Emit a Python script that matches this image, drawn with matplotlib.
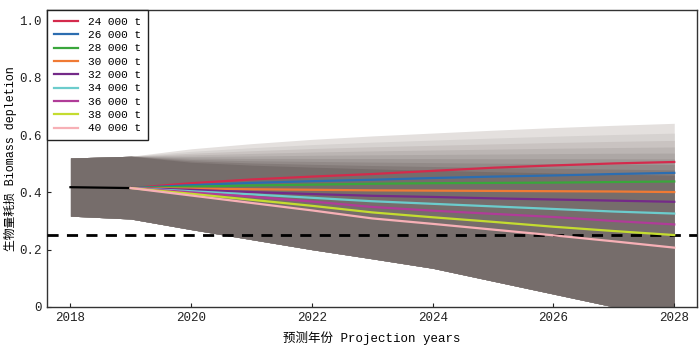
import numpy as np
import matplotlib
matplotlib.use("Agg")
import matplotlib.pyplot as plt

plt.rcParams['font.family'] = ['Liberation Mono', 'Noto Sans CJK SC', 'DejaVu Sans']

# historical period
hist_years = [2018, 2019]
hist_depletion = [0.418, 0.415]

# projection period (2019 is the common start)
proj_years = [2019, 2020, 2021, 2022, 2023, 2024, 2025, 2026, 2027, 2028]

catch_labels = ["24 000 t", "26 000 t", "28 000 t", "30 000 t", "32 000 t",
                "34 000 t", "36 000 t", "38 000 t", "40 000 t"]

median_24 = [0.415, 0.432, 0.445, 0.455, 0.464, 0.475, 0.486, 0.494, 0.501, 0.506]
median_26 = [0.415, 0.425, 0.433, 0.439, 0.444, 0.450, 0.455, 0.459, 0.464, 0.468]
median_28 = [0.415, 0.420, 0.424, 0.427, 0.430, 0.432, 0.433, 0.434, 0.436, 0.438]
median_30 = [0.415, 0.413, 0.411, 0.409, 0.407, 0.406, 0.405, 0.404, 0.403, 0.401]
median_32 = [0.415, 0.409, 0.401, 0.394, 0.388, 0.384, 0.379, 0.375, 0.371, 0.367]
median_34 = [0.415, 0.404, 0.393, 0.381, 0.369, 0.360, 0.351, 0.342, 0.333, 0.326]
median_36 = [0.415, 0.400, 0.385, 0.368, 0.349, 0.336, 0.325, 0.314, 0.300, 0.288]
median_38 = [0.415, 0.395, 0.374, 0.353, 0.330, 0.313, 0.297, 0.280, 0.265, 0.251]
median_40 = [0.415, 0.389, 0.363, 0.337, 0.309, 0.290, 0.270, 0.250, 0.229, 0.207]
medians = [median_24, median_26, median_28, median_30, median_32,
           median_34, median_36, median_38, median_40]

# interval band (2018-2028): common lower bound, upper bound per scenario
band_years = [2018, 2019, 2020, 2021, 2022, 2023, 2024, 2025, 2026, 2027, 2028]
band_lower = [0.317, 0.307, 0.270, 0.235, 0.200, 0.168, 0.135, 0.090, 0.045, 0.0, 0.0]
upper_24 = [0.520, 0.526, 0.552, 0.570, 0.585, 0.597, 0.607, 0.617, 0.626, 0.634, 0.641]
upper_40 = [0.520, 0.526, 0.505, 0.495, 0.488, 0.482, 0.477, 0.472, 0.468, 0.464, 0.460]

ref_level = 0.25

line_colors = ['#d42a4c', '#2c6db0', '#3aa63c', '#f07a34', '#742a88',
               '#6ccccc', '#b03c98', '#c4dc30', '#f7b0b6']

fig = plt.figure(figsize=(7, 3.5), dpi=100)
ax = fig.add_axes([0.067, 0.123, 0.929, 0.848])

# stacked grey bands, lightest (widest) first
light = np.array([228, 224, 222]) / 255
dark = np.array([118, 109, 107]) / 255
n = len(medians)
up24 = np.array(upper_24)
up40 = np.array(upper_40)
for i in range(n):
    f = i / (n - 1)
    upper = up24 + (up40 - up24) * f ** 0.8
    shade = light + (dark - light) * f
    ax.fill_between(band_years, band_lower, upper, color=shade, lw=0, zorder=1)

ax.axhline(ref_level, color='black', lw=2, ls=(0, (4, 3)), zorder=3)

ax.plot(hist_years, hist_depletion, color='black', lw=1.6, zorder=4)
for med, lab, col in zip(medians, catch_labels, line_colors):
    ax.plot(proj_years, med, color=col, lw=1.6, label=lab, zorder=4)

ax.set_xlim(2017.61, 2028.38)
ax.set_ylim(0, 1.036)
ax.set_xticks([2018, 2020, 2022, 2024, 2026, 2028])
ax.set_yticks([0, 0.2, 0.4, 0.6, 0.8, 1.0])
ax.set_yticklabels(['0', '0.2', '0.4', '0.6', '0.8', '1.0'])
ax.tick_params(direction='in', length=3, labelsize=9, colors='#222222')
for s in ax.spines.values():
    s.set_color('#333333')
    s.set_linewidth(1)

ax.set_xlabel('预测年份 Projection years', fontsize=9, labelpad=5)
ax.set_ylabel('生物量耗损 Biomass depletion', fontsize=8.5)
ax.yaxis.set_label_coords(-0.046, 0.5)

leg = ax.legend(loc='upper left', borderaxespad=0, fancybox=False,
                edgecolor='#222222', framealpha=1, fontsize=8,
                handlelength=2.2, labelspacing=0.3, borderpad=0.6,
                handletextpad=0.9)
leg.get_frame().set_linewidth(1)

fig.savefig('out.png', dpi=100)
